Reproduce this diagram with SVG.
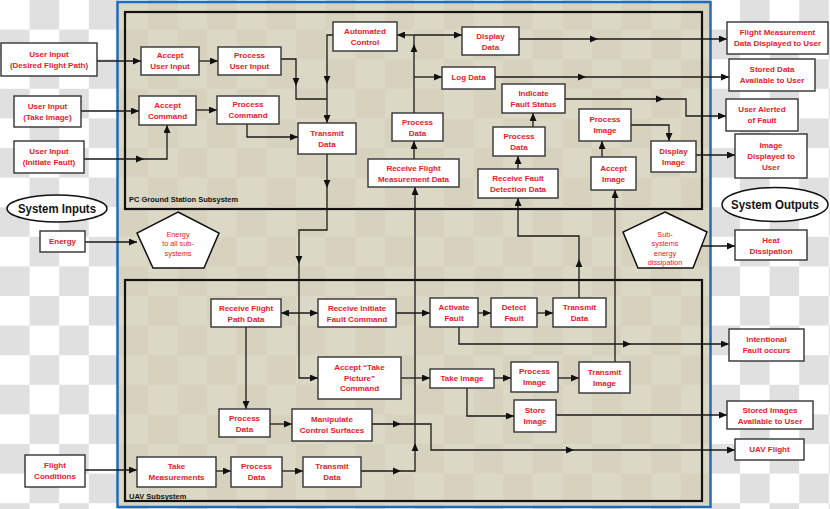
<svg xmlns="http://www.w3.org/2000/svg" xmlns:xlink="http://www.w3.org/1999/xlink" width="830" height="509" viewBox="0 0 830 509">
<defs>
<pattern id="chk" width="59.2" height="59.2" patternUnits="userSpaceOnUse">
<rect width="59.2" height="59.2" fill="#ffffff"/>
<rect x="29.6" y="0" width="29.6" height="29.6" fill="#e0e0e0"/>
<rect x="0" y="29.6" width="29.6" height="29.6" fill="#e0e0e0"/>
</pattern>
<pattern id="beige" width="59.2" height="59.2" patternUnits="userSpaceOnUse">
<rect width="59.2" height="59.2" fill="#dcd8c6"/>
<rect x="29.6" y="0" width="29.6" height="29.6" fill="#d6d2be"/>
<rect x="0" y="29.6" width="29.6" height="29.6" fill="#d6d2be"/>
</pattern>
<marker id="arr" viewBox="0 0 8 7" refX="8" refY="3.5" markerWidth="8" markerHeight="7" markerUnits="userSpaceOnUse" orient="auto-start-reverse">
<path d="M0,0 L8,3.5 L0,7 Z" fill="#111"/>
</marker>
<path id="mh" d="M4,0 L-4,-3.4 L-4,3.4 Z" fill="#111"/>
</defs>
<style>
.bx{fill:#fff;stroke:#333;stroke-width:1.4}
.el{fill:#fff;stroke:#111;stroke-width:1.5}
.t{font-family:"Liberation Sans",Arial,sans-serif;font-weight:bold;font-size:8px;fill:#e8202a;text-anchor:middle;dominant-baseline:central}
.tp{font-family:"Liberation Sans",Arial,sans-serif;font-size:7.3px;fill:#e8202a;text-anchor:middle;dominant-baseline:central}
.lab{font-family:"Liberation Sans",Arial,sans-serif;font-weight:bold;font-size:7.5px;fill:#111;dominant-baseline:central}
.big{font-family:"Liberation Sans",Arial,sans-serif;font-weight:bold;font-size:13px;fill:#111;text-anchor:middle;dominant-baseline:central}
.c{fill:none;stroke:#1a1a1a;stroke-width:1.3}
.e{marker-end:url(#arr)}
.sub{fill:none;stroke:#111;stroke-width:2.2}
</style>

<rect width="830" height="509" fill="url(#chk)"/>
<rect id="frame" x="117.5" y="2" width="593" height="505" fill="url(#beige)" stroke="#1a6ebd" stroke-width="2.5"/>
<g id="pc-subsystem">
<rect class="sub" x="125" y="12" width="577" height="197"/>
<text class="lab" x="129" y="199">PC Ground Station Subsystem</text>
</g>
<g id="uav-subsystem">
<rect class="sub" x="125" y="280" width="577" height="221"/>
<text class="lab" x="129" y="496">UAV Subsystem</text>
</g>

<g id="connectors">
<path class="c e" d="M97,61 H141"/>
<path class="c e" d="M199,61 H218"/>
<path class="c e" d="M81,111 H139"/>
<path class="c e" d="M196,110 H217"/>
<path class="c e" d="M84,159 H167 V125"/>
<use href="#mh" transform="translate(140,159)"/>
<path class="c" d="M281,59 H296 V99 H327"/>
<use href="#mh" transform="translate(296,82) rotate(90)"/>
<path class="c e" d="M333,35 H327 V123"/>
<use href="#mh" transform="translate(327,80) rotate(90)"/>
<path class="c e" d="M247,124 V137 H298"/>
<path class="c" d="M414,113 V35"/>
<use href="#mh" transform="translate(414,48) rotate(-90)"/>
<path class="c e" d="M414,35 H397"/>
<path class="c e" d="M414,35 H462"/>
<path class="c e" d="M414,77 H442"/>
<path class="c e" d="M414,159 V141"/>
<path class="c e" d="M519,39 H727"/>
<use href="#mh" transform="translate(594,39)"/>
<path class="c e" d="M495,77 H729"/>
<use href="#mh" transform="translate(582,77)"/>
<path class="c e" d="M565,99 H686 V116 H726"/>
<use href="#mh" transform="translate(660,99)"/>
<path class="c e" d="M518,169 V156"/>
<path class="c e" d="M533,127 V113"/>
<path class="c e" d="M631,125 H669 V141"/>
<path class="c e" d="M602,157 V141"/>
<path class="c e" d="M696,155 H735"/>
<path class="c e" d="M327,154 V230 H299 V378 H318"/>
<use href="#mh" transform="translate(327,184) rotate(90)"/>
<use href="#mh" transform="translate(299,260) rotate(90)"/>
<path class="c e" d="M281,313 H318" marker-start="url(#arr)"/>
<path class="c e" d="M85,242 H137"/>
<path class="c e" d="M700,246 H735"/>
<path class="c e" d="M396,313 H430"/>
<path class="c e" d="M478,313 H491"/>
<path class="c e" d="M537,313 H553"/>
<path class="c e" d="M579,298 V236 H518 V198"/>
<use href="#mh" transform="translate(579,263) rotate(-90)"/>
<path class="c e" d="M459,327 V344 H729"/>
<use href="#mh" transform="translate(627,344)"/>
<path class="c e" d="M401,378 H430"/>
<path class="c e" d="M494,378 H511"/>
<path class="c e" d="M558,378 H579"/>
<path class="c e" d="M615,362 V190"/>
<path class="c e" d="M467,388 V416 H514"/>
<path class="c e" d="M556,415 H727"/>
<path class="c e" d="M246,327 V409"/>
<path class="c e" d="M270,424 H292"/>
<path class="c e" d="M372,424 H431 V450 H735"/>
<use href="#mh" transform="translate(397,424)"/>
<use href="#mh" transform="translate(570,450)"/>
<path class="c e" d="M85,470 H137"/>
<path class="c e" d="M216,471 H231"/>
<path class="c e" d="M282,471 H303"/>
<path class="c e" d="M361,471 H415 V187"/>
<use href="#mh" transform="translate(397,471)"/>
<use href="#mh" transform="translate(415,447) rotate(-90)"/>
</g>

<g id="in-flight-path"><rect class="bx" x="1" y="43" width="96" height="33"/><text class="t" x="49" y="54">User Input</text><text class="t" x="49" y="65">(Desired Flight Path)</text></g>
<g id="in-take-image"><rect class="bx" x="14" y="96" width="67" height="31"/><text class="t" x="47.5" y="106">User Input</text><text class="t" x="47.5" y="117">(Take Image)</text></g>
<g id="in-init-fault"><rect class="bx" x="14" y="141" width="70" height="32"/><text class="t" x="49" y="151.5">User Input</text><text class="t" x="49" y="162.5">(Initiate Fault)</text></g>
<g id="system-inputs"><ellipse class="el" cx="57" cy="208.5" rx="50" ry="13.5"/><text class="big" x="57" y="208.5" textLength="78" lengthAdjust="spacingAndGlyphs">System Inputs</text></g>
<g id="energy"><rect class="bx" x="40" y="231" width="45" height="21"/><text class="t" x="62.5" y="241.5">Energy</text></g>
<g id="flight-conditions"><rect class="bx" x="25" y="455" width="60" height="32"/><text class="t" x="55" y="465.5">Flight</text><text class="t" x="55" y="476.5">Conditions</text></g>

<g id="accept-user-input"><rect class="bx" x="141" y="47" width="58" height="28"/><text class="t" x="170" y="55.5">Accept</text><text class="t" x="170" y="66.5">User Input</text></g>
<g id="process-user-input"><rect class="bx" x="218" y="47" width="63" height="28"/><text class="t" x="249.5" y="55.5">Process</text><text class="t" x="249.5" y="66.5">User Input</text></g>
<g id="accept-command"><rect class="bx" x="139" y="96" width="57" height="29"/><text class="t" x="167.5" y="105">Accept</text><text class="t" x="167.5" y="116">Command</text></g>
<g id="process-command"><rect class="bx" x="217" y="96" width="62" height="28"/><text class="t" x="248" y="104.5">Process</text><text class="t" x="248" y="115.5">Command</text></g>
<g id="transmit-data-gs"><rect class="bx" x="298" y="123" width="58" height="31"/><text class="t" x="327" y="133">Transmit</text><text class="t" x="327" y="144">Data</text></g>
<g id="automated-control"><rect class="bx" x="333" y="22" width="64" height="29"/><text class="t" x="365" y="31.5">Automated</text><text class="t" x="365" y="42">Control</text></g>
<g id="display-data"><rect class="bx" x="462" y="27" width="57" height="28"/><text class="t" x="490.5" y="36">Display</text><text class="t" x="490.5" y="47">Data</text></g>
<g id="log-data"><rect class="bx" x="442" y="67" width="53" height="22"/><text class="t" x="468.5" y="77.5">Log Data</text></g>
<g id="process-data-gs"><rect class="bx" x="392" y="113" width="51" height="28"/><text class="t" x="417.5" y="122">Process</text><text class="t" x="417.5" y="133">Data</text></g>
<g id="receive-flight-meas"><rect class="bx" x="368" y="159" width="91" height="28"/><text class="t" x="413.5" y="168">Receive Flight</text><text class="t" x="413.5" y="179">Measurement Data</text></g>
<g id="indicate-fault"><rect class="bx" x="502" y="84" width="63" height="29"/><text class="t" x="533.5" y="93.5">Indicate</text><text class="t" x="533.5" y="104">Fault Status</text></g>
<g id="process-data-fault"><rect class="bx" x="493" y="127" width="52" height="29"/><text class="t" x="519" y="136.5">Process</text><text class="t" x="519" y="147">Data</text></g>
<g id="receive-fault-det"><rect class="bx" x="478" y="169" width="80" height="29"/><text class="t" x="518" y="178.5">Receive Fault</text><text class="t" x="518" y="189">Detection Data</text></g>
<g id="process-image-gs"><rect class="bx" x="579" y="109" width="52" height="32"/><text class="t" x="605" y="119">Process</text><text class="t" x="605" y="130">Image</text></g>
<g id="accept-image"><rect class="bx" x="591" y="157" width="45" height="33"/><text class="t" x="613.5" y="168">Accept</text><text class="t" x="613.5" y="179">Image</text></g>
<g id="display-image"><rect class="bx" x="651" y="141" width="45" height="31"/><text class="t" x="673.5" y="151">Display</text><text class="t" x="673.5" y="162">Image</text></g>

<g id="energy-all"><polygon class="el" points="178,212 219,233 204,268 153,268 137,233"/><text class="tp" x="178" y="234">Energy</text><text class="tp" x="178" y="243.5">to all sub-</text><text class="tp" x="178" y="253">systems</text></g>
<g id="energy-dissipation"><polygon class="el" points="665,212 707,232 693,268 638,268 623,232"/><text class="tp" x="665" y="234">Sub-</text><text class="tp" x="665" y="243.5">systems</text><text class="tp" x="665" y="253">energy</text><text class="tp" x="665" y="262">dissipation</text></g>

<g id="out-flight-meas"><rect class="bx" x="727" y="22" width="101" height="32"/><text class="t" x="777.5" y="32.5">Flight Measurement</text><text class="t" x="777.5" y="43.5">Data Displayed to User</text></g>
<g id="out-stored-data"><rect class="bx" x="729" y="59" width="86" height="32"/><text class="t" x="772" y="69.5">Stored Data</text><text class="t" x="772" y="80.5">Available to User</text></g>
<g id="out-user-alerted"><rect class="bx" x="726" y="99" width="72" height="32"/><text class="t" x="762" y="109.5">User Alerted</text><text class="t" x="762" y="120.5">of Fault</text></g>
<g id="out-image-displayed"><rect class="bx" x="735" y="134" width="72" height="44"/><text class="t" x="771" y="145">Image</text><text class="t" x="771" y="156">Displayed to</text><text class="t" x="771" y="167">User</text></g>
<g id="system-outputs"><ellipse class="el" cx="775" cy="204.5" rx="53" ry="17"/><text class="big" x="775" y="204.5" textLength="88" lengthAdjust="spacingAndGlyphs">System Outputs</text></g>
<g id="out-heat"><rect class="bx" x="735" y="230" width="72" height="30"/><text class="t" x="771" y="240">Heat</text><text class="t" x="771" y="251">Dissipation</text></g>
<g id="out-intentional-fault"><rect class="bx" x="729" y="329" width="75" height="32"/><text class="t" x="766.5" y="339.5">Intentional</text><text class="t" x="766.5" y="350.5">Fault occurs</text></g>
<g id="out-stored-images"><rect class="bx" x="727" y="401" width="86" height="28"/><text class="t" x="770" y="410">Stored Images</text><text class="t" x="770" y="421">Available to User</text></g>
<g id="out-uav-flight"><rect class="bx" x="735" y="439" width="69" height="21"/><text class="t" x="769.5" y="449.5">UAV Flight</text></g>

<g id="receive-flight-path"><rect class="bx" x="211" y="299" width="70" height="28"/><text class="t" x="246" y="308">Receive Flight</text><text class="t" x="246" y="319">Path Data</text></g>
<g id="receive-init-fault"><rect class="bx" x="318" y="299" width="78" height="28"/><text class="t" x="357" y="308">Receive Initiate</text><text class="t" x="357" y="319">Fault Command</text></g>
<g id="accept-take-picture"><rect class="bx" x="318" y="357" width="83" height="42"/><text class="t" x="359.5" y="367.5">Accept “Take</text><text class="t" x="359.5" y="378">Picture”</text><text class="t" x="359.5" y="388.5">Command</text></g>
<g id="process-data-uav"><rect class="bx" x="219" y="409" width="51" height="28"/><text class="t" x="244.5" y="418">Process</text><text class="t" x="244.5" y="429">Data</text></g>
<g id="manipulate"><rect class="bx" x="292" y="409" width="80" height="32"/><text class="t" x="332" y="419">Manipulate</text><text class="t" x="332" y="430">Control Surfaces</text></g>
<g id="activate-fault"><rect class="bx" x="430" y="298" width="48" height="29"/><text class="t" x="454" y="307.5">Activate</text><text class="t" x="454" y="318">Fault</text></g>
<g id="detect-fault"><rect class="bx" x="491" y="298" width="46" height="29"/><text class="t" x="514" y="307.5">Detect</text><text class="t" x="514" y="318">Fault</text></g>
<g id="transmit-data-uav1"><rect class="bx" x="553" y="298" width="53" height="29"/><text class="t" x="579.5" y="307.5">Transmit</text><text class="t" x="579.5" y="318">Data</text></g>
<g id="take-image"><rect class="bx" x="430" y="369" width="64" height="19"/><text class="t" x="462" y="378.5">Take Image</text></g>
<g id="process-image-uav"><rect class="bx" x="511" y="362" width="47" height="30"/><text class="t" x="534.5" y="371.5">Process</text><text class="t" x="534.5" y="382.5">Image</text></g>
<g id="transmit-image"><rect class="bx" x="579" y="362" width="51" height="31"/><text class="t" x="604.5" y="372">Transmit</text><text class="t" x="604.5" y="383">Image</text></g>
<g id="store-image"><rect class="bx" x="514" y="400" width="42" height="32"/><text class="t" x="535" y="410.5">Store</text><text class="t" x="535" y="421.5">Image</text></g>
<g id="take-measurements"><rect class="bx" x="137" y="457" width="79" height="30"/><text class="t" x="176.5" y="466.5">Take</text><text class="t" x="176.5" y="477.5">Measurements</text></g>
<g id="process-data-uav2"><rect class="bx" x="231" y="457" width="51" height="30"/><text class="t" x="256.5" y="466.5">Process</text><text class="t" x="256.5" y="477.5">Data</text></g>
<g id="transmit-data-uav2"><rect class="bx" x="303" y="457" width="58" height="30"/><text class="t" x="332" y="466.5">Transmit</text><text class="t" x="332" y="477.5">Data</text></g>
</svg>
